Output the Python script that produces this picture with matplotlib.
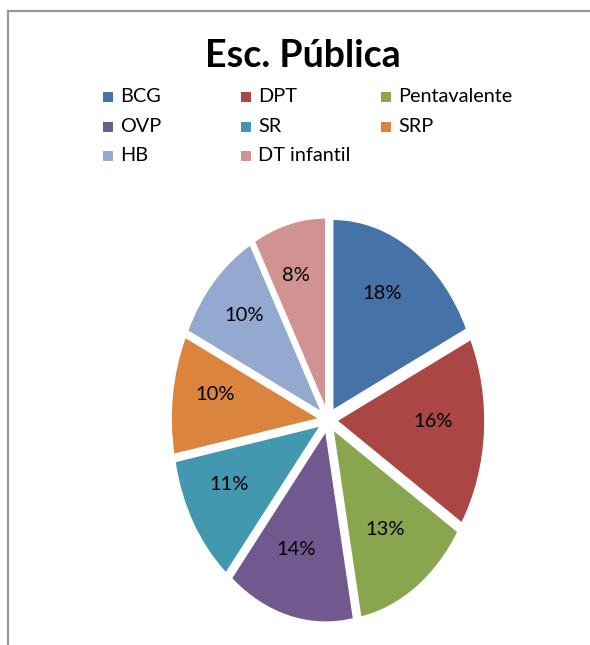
import matplotlib
matplotlib.use("Agg")
from matplotlib import pyplot as plt
from matplotlib.lines import Line2D
from matplotlib.patches import Rectangle

title = "Esc. Pública"
vacunas = ["BCG", "DPT", "Pentavalente", "OVP", "SR", "SRP", "HB", "DT infantil"]
porcentajes = [18, 16, 13, 14, 11, 10, 10, 8]
colores = ["#4572A7", "#AA4643", "#89A54E", "#71588F",
           "#4198AF", "#DB843D", "#93A9CF", "#D19392"]

W, H = 590, 645
plt.rcParams['font.family'] = ['Lato', 'DejaVu Sans']

fig = plt.figure(figsize=(W / 100, H / 100), dpi=100)

# chart frame (only left and top edges fall inside the image)
fig.add_artist(Line2D([7.5 / W, 7.5 / W], [0, 1 - 10.5 / H], color="#9a9a9a", lw=1.6))
fig.add_artist(Line2D([7.5 / W, 1], [1 - 10.5 / H, 1 - 10.5 / H], color="#9a9a9a", lw=1.6))

fig.text(303 / W, 1 - 56 / H, title, ha="center", va="center",
         fontsize=27, fontweight="bold")

# legend drawn as a 3-column grid
col_x = [108, 246, 386]
row_y = [97, 127, 156]
for i, (name, c) in enumerate(zip(vacunas, colores)):
    x = col_x[i % 3]
    y = row_y[i // 3]
    fig.add_artist(Rectangle(((x - 5) / W, 1 - (y + 5) / H), 10 / W, 10 / H,
                             transform=fig.transFigure, color=c, lw=0))
    fig.text((x + 12) / W, 1 - y / H, name, ha="left", va="center", fontsize=14.3)

# elliptical exploded pie: axes aspect left free so the circle stretches
cx, cy, rx, ry = 328, 420, 148, 191
lim = 1.1
ax = fig.add_axes([(cx - lim * rx) / W, (H - cy - lim * ry) / H,
                   2 * lim * rx / W, 2 * lim * ry / H])
wedges, texts, autotexts = ax.pie(
    porcentajes, colors=colores, startangle=90, counterclock=False,
    explode=[0.06] * len(porcentajes), autopct="%d%%", pctdistance=0.68,
    wedgeprops=dict(edgecolor="white", linewidth=1),
    textprops=dict(fontsize=14.5, color="black"))
ax.set_aspect("auto")
ax.set_xlim(-lim, lim)
ax.set_ylim(-lim, lim)
for t in autotexts:
    px, py = t.get_position()
    t.set_position((px - 0.03, py + 0.04))

fig.savefig("out.png", dpi=100)
